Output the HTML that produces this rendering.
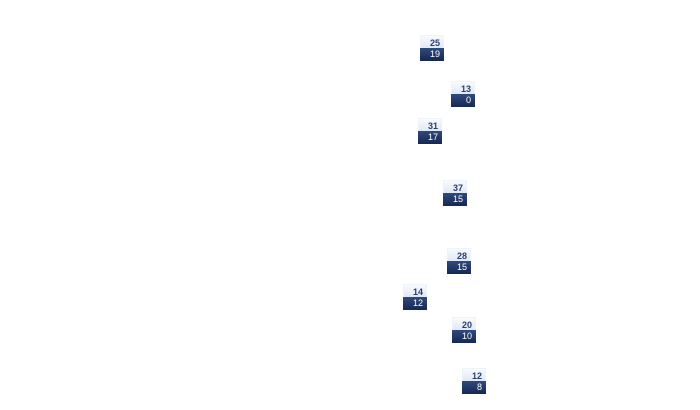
<!DOCTYPE html>
<html><head><style>
body{margin:0;width:700px;height:410px;background:#fff;position:relative;font-family:"Liberation Sans",sans-serif;font-size:9px;font-weight:bold;overflow:hidden}
.b{position:absolute;width:24px}
.t{height:13px;line-height:14px;text-align:right;padding-right:3px;box-sizing:border-box;color:#2c3e6e;background:linear-gradient(#f8fbff,#dfe8f6);border:1px solid #eef2fa;border-bottom:none}
.d{height:13px;line-height:13px;text-align:right;padding-right:4px;box-sizing:border-box;color:#fff;font-weight:normal;background:linear-gradient(#2f4a7e,#17284f)}
</style></head><body>
<div class="b" style="left:420px;top:35px"><div class="t">25</div><div class="d">19</div></div>
<div class="b" style="left:451px;top:81px"><div class="t">13</div><div class="d">0</div></div>
<div class="b" style="left:418px;top:118px"><div class="t">31</div><div class="d">17</div></div>
<div class="b" style="left:443px;top:180px"><div class="t">37</div><div class="d">15</div></div>
<div class="b" style="left:447px;top:248px"><div class="t">28</div><div class="d">15</div></div>
<div class="b" style="left:403px;top:284px"><div class="t">14</div><div class="d">12</div></div>
<div class="b" style="left:452px;top:317px"><div class="t">20</div><div class="d">10</div></div>
<div class="b" style="left:462px;top:368px"><div class="t">12</div><div class="d">8</div></div>
</body></html>
